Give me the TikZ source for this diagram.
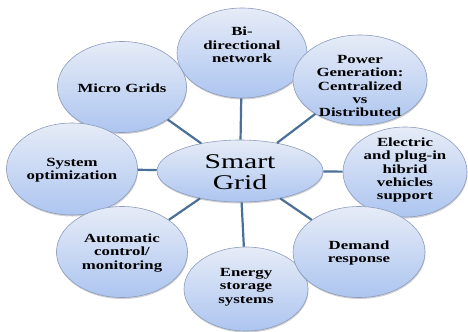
\documentclass[tikz,border=0pt]{standalone}
\usepackage{fontspec}
\setmainfont{Liberation Serif}[FakeStretch=1.35]
\newfontfamily\hubfont{Liberation Serif}[FakeStretch=1.42]
\usetikzlibrary{shapes.geometric,shadows}
\definecolor{bubbletop}{HTML}{E6ECF7}
\definecolor{bubblebot}{HTML}{ADC5F0}
\definecolor{bubbleedge}{HTML}{8C9CBC}
\definecolor{spokecol}{HTML}{4A6F98}
\tikzset{
  bubble/.style={ellipse, draw=bubbleedge, line width=0.6bp,
    top color=bubbletop, bottom color=bubblebot, inner sep=0pt,
    drop shadow={shadow xshift=0.5bp, shadow yshift=-1.5bp, fill=black, opacity=0.18}},
  lbl/.style={align=center, font=\fontsize{12.5}{13.5}\selectfont\bfseries, text=black, inner sep=0pt},
  hublbl/.style={align=center, font=\hubfont\fontsize{21}{21}\selectfont, text=black, inner sep=0pt},
  spokeline/.style={draw=spokecol, line width=2.2bp}
}
\begin{document}
\begin{tikzpicture}[x=1bp,y=-1bp]
  \useasboundingbox (0,0) rectangle (468,331);
  % hub
  \node[bubble, minimum width=166bp, minimum height=62bp] (hub) at (240,171) {};
  % satellites
  \node[bubble, minimum width=130bp, minimum height=90bp] (bi) at (242,53) {};
  \node[bubble, minimum width=129bp, minimum height=91bp] (mg) at (122,87) {};
  \node[bubble, minimum width=131bp, minimum height=92bp] (so) at (72,169) {};
  \node[bubble, minimum width=131bp, minimum height=91bp] (ac) at (122,252) {};
  \node[bubble, minimum width=124bp, minimum height=84bp] (es) at (246,289) {};
  \node[bubble, minimum width=134bp, minimum height=90bp] (pg) at (360,80) {};
  \node[bubble, minimum width=124bp, minimum height=90bp] (ev) at (405,172) {};
  \node[bubble, minimum width=132bp, minimum height=91bp] (dr) at (359,252) {};
  % spokes
  \foreach \s in {bi,mg,so,ac,es,pg,ev,dr}
    \draw[spokeline] (hub) -- (\s);
  % texts
  \node[hublbl] (hubt) at (240,172) {Smart\\Grid};
  \node[lbl] (bit) at (242,45) {Bi-\\directional\\network};
  \node[lbl] (mgt) at (122,88) {Micro Grids};
  \node[lbl] (sot) at (72,170) {System\\optimization};
  \node[lbl] (act) at (122,253) {Automatic\\control/\\monitoring};
  \node[lbl] (est) at (246,287) {Energy\\storage\\systems};
  \node[lbl] (pgt) at (360,86) {Power\\Generation:\\Centralized\\vs\\Distributed};
  \node[lbl] (evt) at (405,170) {Electric\\and plug-in\\hibrid\\vehicles\\support};
  \node[lbl] (drt) at (359,253) {Demand\\response};
\end{tikzpicture}
\end{document}
